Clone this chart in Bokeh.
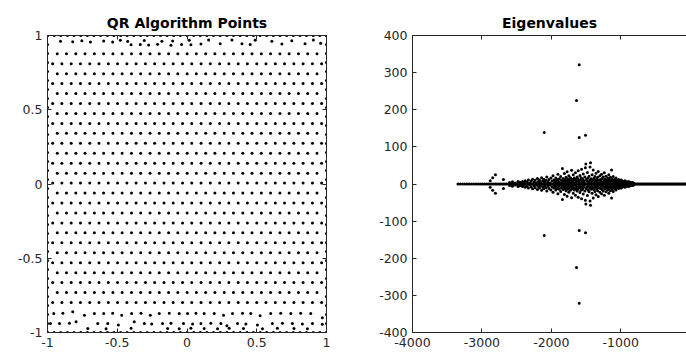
from bokeh.plotting import figure
from bokeh.layouts import row
from bokeh.models import LinearAxis, Range1d, FixedTicker
from bokeh.embed import file_html
from bokeh.resources import INLINE

# ---------------- Left panel: QR algorithm points ----------------
ROW_Y = [0.877, 0.810, 0.743, 0.676, 0.609, 0.542, 0.475, 0.408, 0.341, 0.274,
         0.207, 0.140, 0.073, 0.006, -0.061, -0.128, -0.195, -0.262, -0.329,
         -0.396, -0.463, -0.530, -0.597, -0.664, -0.731, -0.798]
COLS_A = [-0.930, -0.864, -0.797, -0.731, -0.664, -0.598, -0.531, -0.465, -0.398,
          -0.332, -0.265, -0.199, -0.132, -0.066, 0.001, 0.067, 0.134, 0.200,
          0.267, 0.333, 0.400, 0.466, 0.533, 0.599, 0.666, 0.732, 0.799, 0.865, 0.932]
COLS_B = [-0.963, -0.897, -0.830, -0.764, -0.697, -0.631, -0.564, -0.498, -0.431,
          -0.365, -0.298, -0.232, -0.165, -0.099, -0.032, 0.034, 0.101, 0.167,
          0.234, 0.300, 0.367, 0.433, 0.500, 0.566, 0.633, 0.699, 0.766, 0.832,
          0.899, 0.965]
TOP_ROW_1 = [(-0.907, 0.962), (-0.819, 0.958), (-0.754, 0.965), (-0.692, 0.956),
             (-0.597, 0.963), (-0.533, 0.957), (-0.478, 0.968), (-0.425, 0.960),
             (-0.306, 0.966), (-0.180, 0.962), (-0.103, 0.963), (0.016, 0.968),
             (0.155, 0.970), (0.322, 0.970), (0.489, 0.968), (0.608, 0.962),
             (0.751, 0.965), (0.906, 0.970)]
TOP_ROW_2 = [(-0.401, 0.938), (-0.335, 0.940), (-0.275, 0.936), (-0.211, 0.941),
             (-0.115, 0.935), (-0.039, 0.940), (0.028, 0.937), (0.100, 0.942),
             (0.238, 0.945), (0.394, 0.945), (0.453, 0.940), (0.680, 0.943),
             (0.846, 0.944), (0.958, 0.948)]
BOT_ROW_1 = [(-0.955, -0.872), (-0.890, -0.870), (-0.819, -0.861), (-0.735, -0.883),
             (-0.664, -0.872), (-0.597, -0.872), (-0.533, -0.870), (-0.468, -0.883),
             (-0.397, -0.872), (-0.330, -0.870), (-0.263, -0.883), (-0.199, -0.872),
             (-0.127, -0.870), (-0.056, -0.872), (0.004, -0.872), (0.064, -0.870),
             (0.123, -0.872), (0.195, -0.872), (0.262, -0.883), (0.326, -0.872),
             (0.398, -0.870), (0.457, -0.872), (0.524, -0.888), (0.600, -0.872),
             (0.672, -0.870), (0.744, -0.872), (0.815, -0.870), (0.887, -0.872),
             (0.970, -0.901)]
BOT_ROW_2 = [(-0.979, -0.940), (-0.914, -0.940), (-0.843, -0.938), (-0.795, -0.928),
             (-0.640, -0.940), (-0.568, -0.940), (-0.492, -0.950), (-0.378, -0.928),
             (-0.306, -0.940), (-0.253, -0.942), (-0.175, -0.940), (-0.115, -0.938),
             (-0.025, -0.940), (0.040, -0.942), (0.100, -0.940), (0.171, -0.938),
             (0.243, -0.940), (0.286, -0.955), (0.362, -0.940), (0.422, -0.942),
             (0.505, -0.950), (0.612, -0.940), (0.684, -0.938), (0.755, -0.940),
             (0.827, -0.942), (0.899, -0.940), (0.970, -0.945)]
BOT_ROW_3 = [(-0.711, -0.973), (-0.580, -0.975), (-0.401, -0.972), (-0.139, -0.973),
             (-0.056, -0.975), (0.028, -0.972), (0.123, -0.973), (0.219, -0.975),
             (0.302, -0.972), (0.405, -0.973), (0.541, -0.975), (0.648, -0.972),
             (0.767, -0.973), (0.863, -0.975)]
EDGE_TB = [-1.000, -0.952, -0.905, -0.857, -0.810, -0.762, -0.714, -0.667, -0.619,
           -0.571, -0.524, -0.476, -0.429, -0.381, -0.333, -0.286, -0.238, -0.190,
           -0.143, -0.095, -0.048, 0.000, 0.048, 0.095, 0.143, 0.190, 0.238, 0.286,
           0.333, 0.381, 0.429, 0.476, 0.524, 0.571, 0.619, 0.667, 0.714, 0.762,
           0.810, 0.857, 0.905, 0.952, 1.000]
EDGE_LR = [-1.000, -0.939, -0.879, -0.818, -0.758, -0.697, -0.636, -0.576, -0.515,
           -0.455, -0.394, -0.333, -0.273, -0.212, -0.152, -0.091, -0.030, 0.030,
           0.091, 0.152, 0.212, 0.273, 0.333, 0.394, 0.455, 0.515, 0.576, 0.636,
           0.697, 0.758, 0.818, 0.879, 0.939, 1.000]

X1_TICKS = [-1, -0.5, 0, 0.5, 1]
X1_LABELS = ["-1", "-0.5", "0", "0.5", "1"]
Y1_TICKS = [-1, -0.5, 0, 0.5, 1]
Y1_LABELS = ["-1", "-0.5", "0", "0.5", "1"]

# ---------------- Right panel: eigenvalues ----------------
REAL_AXIS = [-3345, -3312, -3280, -3248, -3215, -3183, -3150, -3118, -3086, -3055,
             -3025, -2995, -2966, -2938, -2910, -2884, -2858, -2833, -2808, -2784,
             -2760, -2737, -2714, -2692, -2670, -2648, -2627, -2606, -2585, -2564,
             -2544, -2524, -2504, -2484, -2464, -2444, -2424, -2404, -2385, -2366,
             -2347, -2328, -2309, -2290, -2271, -2252, -2233, -2214, -2196, -2178,
             -2160, -2142, -2124, -2106, -2088, -2070, -2052, -2034, -2016, -1998,
             -1980, -1962, -1944, -1926, -1908, -1890, -1872, -1854, -1836, -1818,
             -1800, -1782, -1764, -1746, -1728, -1710, -1692, -1674, -1656, -1638,
             -1620, -1602, -1584, -1566, -1548, -1530, -1512, -1494, -1476, -1458,
             -1440, -1422, -1404, -1386, -1368, -1350, -1332, -1314, -1296, -1278,
             -1260, -1242, -1224, -1206, -1188, -1170, -1152, -1134, -1116, -1098,
             -1080, -1062, -1044, -1026, -1008, -990, -972, -954, -936, -918, -900,
             -882, -864, -846, -828, -810, -792, -776, -760, -744, -728, -712, -696,
             -680, -664, -648, -632, -616, -600, -584, -568, -552, -536, -520, -504,
             -488, -472, -456, -440, -424, -408, -392, -376, -360, -344, -328, -312,
             -296, -280, -264, -248, -232, -216, -200, -184, -168, -152, -136, -120,
             -104, -88, -72, -56, -40, -24, -8]
FLARE = [(-2880, 9), (-2845, 17), (-2805, 25), (-2690, 12), (-2600, 4), (-2560, 6),
         (-2520, 3), (-2480, 7), (-2460, 5)]
OUTLIERS = [(-1598, 321), (-1637, 225), (-2102, 139), (-1598, 125), (-1507, 131)]
CLUSTER_WEST = [(-2440, 4), (-2415, 7), (-2395, 3), (-2375, 9), (-2350, 5), (-2330, 11),
                (-2310, 3), (-2290, 8), (-2270, 13), (-2250, 5), (-2232, 10), (-2215, 3),
                (-2200, 15), (-2185, 7), (-2170, 11), (-2155, 4), (-2140, 17), (-2125, 8),
                (-2110, 13), (-2095, 5), (-2080, 10), (-2065, 19), (-2050, 6), (-2035, 12),
                (-2020, 3), (-2005, 16), (-1990, 8), (-1975, 22), (-1962, 11), (-1955, 4)]
CLUSTER_MID = [(-1945, 9), (-1935, 16), (-1925, 4), (-1915, 12), (-1905, 26), (-1895, 7),
               (-1885, 14), (-1875, 3), (-1865, 20), (-1855, 10), (-1845, 5), (-1840, 42),
               (-1830, 15), (-1820, 8), (-1812, 28), (-1804, 12), (-1796, 4), (-1788, 18),
               (-1780, 9), (-1772, 33), (-1764, 14), (-1756, 6), (-1748, 22), (-1740, 11),
               (-1732, 3), (-1724, 17), (-1716, 8), (-1708, 37), (-1700, 13), (-1692, 5),
               (-1684, 25), (-1676, 10), (-1668, 16), (-1660, 3), (-1652, 30), (-1644, 12),
               (-1636, 7), (-1628, 19), (-1620, 14), (-1612, 36), (-1604, 9), (-1596, 4),
               (-1588, 23), (-1580, 11), (-1572, 17), (-1564, 40), (-1556, 6), (-1548, 14),
               (-1540, 27), (-1532, 9), (-1524, 3), (-1516, 19), (-1509, 44), (-1502, 54),
               (-1496, 12), (-1488, 8), (-1480, 31), (-1472, 16), (-1464, 5), (-1456, 21),
               (-1448, 10), (-1442, 46), (-1435, 57), (-1428, 14), (-1420, 6), (-1412, 25),
               (-1404, 11)]
CLUSTER_EAST = [(-1396, 38), (-1388, 15), (-1380, 4), (-1372, 20), (-1364, 9), (-1356, 29),
                (-1348, 13), (-1340, 6), (-1332, 18), (-1324, 34), (-1316, 10), (-1308, 3),
                (-1300, 22), (-1292, 12), (-1284, 7), (-1276, 26), (-1268, 15), (-1260, 4),
                (-1252, 19), (-1244, 9), (-1236, 30), (-1228, 13), (-1220, 6), (-1212, 21),
                (-1204, 11), (-1196, 3), (-1188, 16), (-1180, 8), (-1172, 25), (-1164, 12),
                (-1156, 5), (-1148, 18), (-1140, 9), (-1132, 38), (-1124, 14), (-1116, 6),
                (-1108, 20), (-1100, 10), (-1092, 3), (-1084, 13), (-1076, 7), (-1068, 16),
                (-1060, 4), (-1050, 10), (-1040, 6), (-1030, 12), (-1020, 3), (-1010, 8),
                (-995, 11), (-985, 4), (-975, 8), (-962, 3), (-950, 6), (-938, 9), (-925, 2),
                (-912, 6), (-900, 4), (-885, 7), (-870, 3), (-855, 5), (-840, 2), (-825, 4),
                (-810, 2)]

X2_TICKS = [-4000, -3000, -2000, -1000, 0]
X2_LABELS = ["-4000", "-3000", "-2000", "-1000", "0"]
Y2_TICKS = [-400, -300, -200, -100, 0, 100, 200, 300, 400]
Y2_LABELS = ["-400", "-300", "-200", "-100", "0", "100", "200", "300", "400"]

FONT = "DejaVu Sans"
INK = "#262626"


def style_axis(ax, ticks, labels, show_labels=True):
    ax.ticker = FixedTicker(ticks=ticks)
    ax.major_tick_in = 4
    ax.major_tick_out = 0
    ax.minor_tick_line_color = None
    ax.axis_line_color = INK
    ax.axis_line_width = 1
    ax.major_tick_line_color = INK
    if show_labels:
        ax.major_label_overrides = dict(zip(ticks, labels))
        ax.major_label_text_font = FONT
        ax.major_label_text_font_size = "12.5px"
        ax.major_label_text_color = INK
        ax.major_label_standoff = 5
    else:
        # tick marks only (box style), no labels drawn
        ax.major_label_text_color = None
        ax.major_label_text_font_size = "1px"
        ax.major_label_standoff = 0


def make_fig(title, xr, yr, left, right):
    p = figure(width=343, height=354, x_range=xr, y_range=yr, title=title,
               output_backend="svg", toolbar_location=None,
               min_border_left=left, min_border_right=right,
               min_border_top=35, min_border_bottom=22)
    p.grid.visible = False
    p.outline_line_color = None
    p.background_fill_color = "white"
    p.border_fill_color = "white"
    p.title.align = "center"
    p.title.text_font = FONT
    p.title.text_font_style = "bold"
    p.title.text_font_size = "14px"
    p.title.text_color = "black"
    return p


# left panel points
px, py = [], []
for k, yv in enumerate(ROW_Y):
    cols = COLS_A if k % 2 == 0 else COLS_B
    px += cols
    py += [yv] * len(cols)
for pts in (TOP_ROW_1, TOP_ROW_2, BOT_ROW_1, BOT_ROW_2, BOT_ROW_3):
    for xv, yv in pts:
        px.append(xv)
        py.append(yv)
for e in EDGE_TB:
    px += [e, e]
    py += [1, -1]
for e in EDGE_LR:
    px += [-1, 1]
    py += [e, e]

p1 = make_fig("QR Algorithm Points", Range1d(-1, 1), Range1d(-1, 1), 47, 17)
style_axis(p1.xaxis[0], X1_TICKS, X1_LABELS)
style_axis(p1.yaxis[0], Y1_TICKS, Y1_LABELS)
top1 = LinearAxis()
right1 = LinearAxis()
p1.add_layout(top1, "above")
p1.add_layout(right1, "right")
style_axis(top1, X1_TICKS, X1_LABELS, False)
style_axis(right1, Y1_TICKS, Y1_LABELS, False)
p1.scatter(x=px, y=py, marker="circle", size=3, fill_color="black", line_color=None)

# right panel points
ex, ey = [], []
for r in REAL_AXIS:
    ex.append(r)
    ey.append(0)
for grp in (FLARE, OUTLIERS, CLUSTER_WEST, CLUSTER_MID, CLUSTER_EAST):
    for re_, im_ in grp:
        ex += [re_, re_]
        ey += [im_, -im_]

p2 = make_fig("Eigenvalues", Range1d(-4000, -52), Range1d(-400, 400), 69, 0)
style_axis(p2.xaxis[0], X2_TICKS, X2_LABELS)
style_axis(p2.yaxis[0], Y2_TICKS, Y2_LABELS)
top2 = LinearAxis()
p2.add_layout(top2, "above")
style_axis(top2, X2_TICKS, X2_LABELS, False)
p2.scatter(x=ex, y=ey, marker="circle", size=3, fill_color="black", line_color=None)

layout = row(p1, p2, spacing=0)
html = file_html(layout, INLINE, title="QR Algorithm Points / Eigenvalues")
open("out.html", "w").write(html)
